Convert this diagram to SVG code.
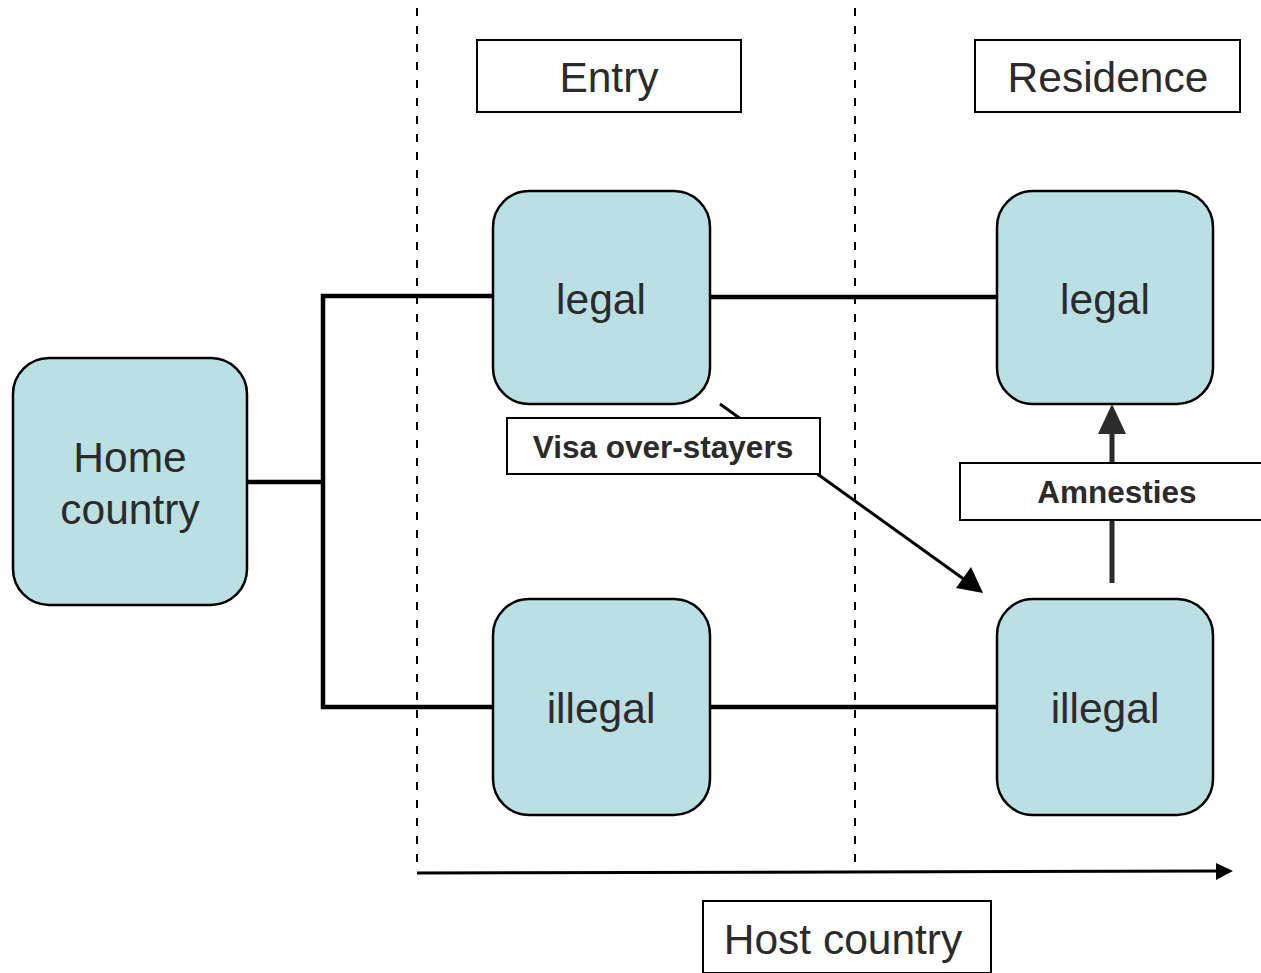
<svg xmlns="http://www.w3.org/2000/svg" width="1261" height="973" viewBox="0 0 1261 973">
<defs>
<style>
.node{fill:#bae0e3;stroke:#000;stroke-width:2.5}
.lbl{fill:#fff;stroke:#000;stroke-width:2}
.t{font-family:"Liberation Sans",Arial,sans-serif;font-size:42.5px;fill:#2b2b2b;text-anchor:middle}
.tb{font-family:"Liberation Sans",Arial,sans-serif;font-size:31.5px;font-weight:bold;fill:#2b2b2b;text-anchor:middle}
.dash{stroke:#000;stroke-width:2;stroke-dasharray:8 10;fill:none}
.conn{stroke:#000;stroke-width:4.5;fill:none}
</style>
</defs>
<rect width="1261" height="973" fill="#fff"/>
<g id="dividers">
<line class="dash" x1="417" y1="8" x2="417" y2="872"/>
<line class="dash" x1="855" y1="8" x2="855" y2="872"/>
</g>
<g id="connectors">
<polyline class="conn" points="247,482 323,482"/>
<polyline class="conn" points="493,296 323,296 323,707 493,707"/>
<line class="conn" x1="710" y1="297" x2="997" y2="297"/>
<line class="conn" x1="710" y1="707" x2="997" y2="707"/>
<line x1="720" y1="404" x2="965" y2="580" stroke="#000" stroke-width="3"/>
<polygon points="983,593 956,588 971,567" fill="#000"/>
<line x1="1112" y1="583" x2="1112" y2="430" stroke="#2b2b2b" stroke-width="5"/>
<polygon points="1112,404 1098,434 1126,434" fill="#2b2b2b"/>
<line x1="417" y1="873" x2="1218" y2="871" stroke="#000" stroke-width="3"/>
<polygon points="1233,871 1216,863 1216,880" fill="#000"/>
</g>
<g id="entry-header"><rect class="lbl" x="477" y="40" width="264" height="72"/><text class="t" x="609" y="92">Entry</text></g>
<g id="residence-header"><rect class="lbl" x="975" y="40" width="265" height="72"/><text class="t" x="1108" y="92">Residence</text></g>
<g id="host-country"><rect class="lbl" x="703" y="901" width="288" height="72"/><text class="t" x="843" y="954">Host country</text></g>
<g id="home-country"><rect class="node" x="13" y="358" width="234" height="247" rx="36"/><text class="t" x="130" y="472">Home</text><text class="t" x="130" y="524">country</text></g>
<g id="entry-legal"><rect class="node" x="493" y="191" width="217" height="213" rx="36"/><text class="t" x="601" y="314">legal</text></g>
<g id="residence-legal"><rect class="node" x="997" y="191" width="216" height="213" rx="36"/><text class="t" x="1105" y="314">legal</text></g>
<g id="entry-illegal"><rect class="node" x="493" y="599" width="217" height="216" rx="36"/><text class="t" x="601" y="723">illegal</text></g>
<g id="residence-illegal"><rect class="node" x="997" y="599" width="216" height="216" rx="36"/><text class="t" x="1105" y="723">illegal</text></g>
<g id="visa-label"><rect class="lbl" x="507" y="418" width="313" height="56"/><text class="tb" x="663" y="458">Visa over-stayers</text></g>
<g id="amnesties-label"><rect class="lbl" x="960" y="463" width="305" height="57"/><text class="tb" x="1117" y="503">Amnesties</text></g>
</svg>
